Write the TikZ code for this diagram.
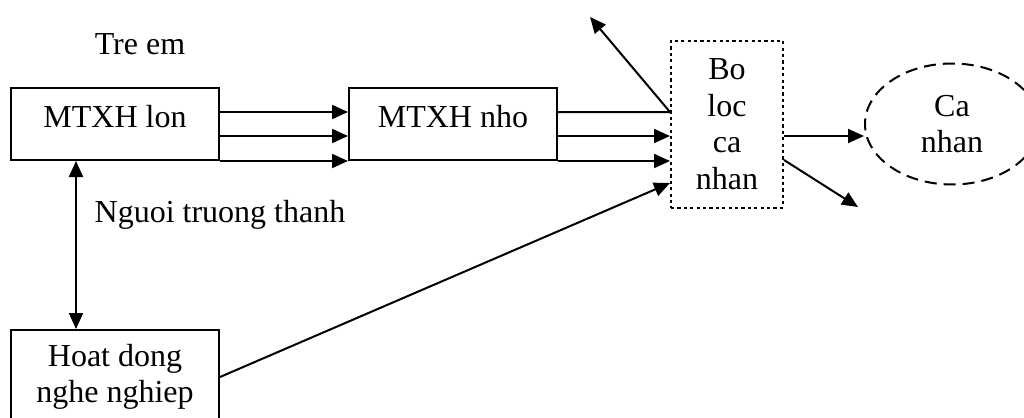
\documentclass[tikz,border=0pt]{standalone}
\usepackage{fontspec}
\setmainfont{Liberation Serif}
\usetikzlibrary{positioning,calc,shapes.geometric,arrows.meta}

\begin{document}
\begin{tikzpicture}[x=0.5pt, y=-0.5pt, line width=1pt,
    nodes={font=\fontsize{16}{18.3}\selectfont, inner sep=0},
    box/.style={draw, minimum width=104pt},
    onerow/.style={minimum height=36pt, text height=10pt, text depth=7pt},
    filter/.style={draw, dash pattern=on 1.6pt off 1.6pt, align=center,
      minimum width=56pt, minimum height=83.5pt},
    self/.style={draw, ellipse, dash pattern=on 6pt off 3.5pt, align=center,
      minimum width=87pt, minimum height=60.5pt},
    arr/.style={-{Triangle[length=8pt,width=7pt]}},
    biarr/.style={{Triangle[length=8pt,width=7pt]}-{Triangle[length=8pt,width=7pt]}}]
  \useasboundingbox (0,0) rectangle (1024,418);

  % boxes
  \node[box, onerow] (lon) at (115,124) {MTXH lon};
  \node[box, onerow, right=64pt of lon] (nho) {MTXH nho};
  \node[filter, right=56pt of nho] (loc) {Bo\\loc\\ca\\nhan};
  \node[self, right=40pt of loc] (can) {Ca\\nhan};
  \node[box, align=center, minimum height=47pt, below=84pt of lon] (hoat)
    {Hoat dong\\nghe nghiep};

  % labels
  \node (tre) at (140,44) {Tre em};
  \node (nguoi) at (220,215) {Nguoi truong thanh};

  % connectors
  \draw[arr] ([yshift=6pt]lon.east) -- ([yshift=6pt]nho.west);
  \draw[arr] ([yshift=-6pt]lon.east) -- ([yshift=-6pt]nho.west);
  \draw[arr] (lon.south east) -- (nho.south west);

  \coordinate (up) at (590,17);
  \draw[arr] ([yshift=6pt]nho.east) -- ([yshift=6pt]nho.east -| loc.west) -- (up);
  \draw[arr] ([yshift=-6pt]nho.east) -- ([yshift=-6pt]nho.east -| loc.west);
  \draw[arr] (nho.south east) -- (nho.south east -| loc.west);

  \draw[arr] ([yshift=-6pt]loc.east) -- ([yshift=-6pt]loc.east -| can.west);
  \coordinate (down) at (858,207);
  \draw[arr] ([yshift=-18pt]loc.east) -- (down);

  \draw[biarr] ([xshift=-19.5pt]lon.south) -- ([xshift=-19.5pt]hoat.north);
  \draw[arr] (hoat.east) -- ([yshift=-29.5pt]loc.west);
\end{tikzpicture}
\end{document}
